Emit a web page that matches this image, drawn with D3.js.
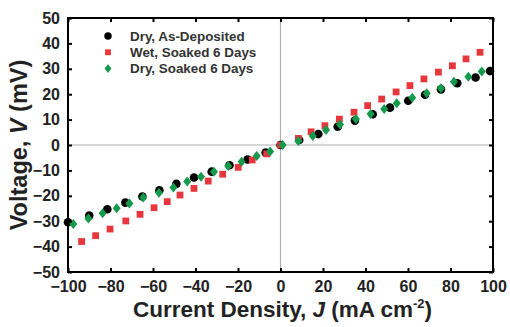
<!DOCTYPE html>
<meta charset="utf-8">
<script src="https://d3js.org/d3.v7.min.js"></script>
<style>
  body { margin: 0; background: #fff; }
  text { font-family: "Liberation Sans", Arial, sans-serif; font-weight: bold; }
</style>
<div id="chart"></div>
<script>
// data
const dryJ = [-100, -90, -81.5, -73, -65, -57, -49, -40.7, -32.4, -24, -15.5, -7, 0, 8.8, 17.8, 26.9, 35, 43.4, 51.5, 60.1, 68, 75.5, 83.2, 91.8, 98.6];
const dryV = [-30.4, -27.8, -25.3, -22.7, -20.3, -17.8, -15.3, -12.8, -10.5, -8, -5.7, -3, 0, 2, 4.3, 7.2, 9.6, 12.1, 14.7, 17.4, 19.8, 21.9, 24.3, 26.6, 29.1];

const wetJ = [-93.6, -87, -80.2, -72.8, -66.1, -59.5, -53.3, -47.3, -40.7, -34, -27.2, -19.9, -13.3, -6.5, 0, 8.4, 14.4, 20.9, 27.7, 34.6, 41, 47.6, 54.4, 60.9, 67.5, 74.3, 80.9, 87.3, 93.9];
const wetV = [-38, -35.7, -33.1, -29.9, -27.3, -24.7, -22.3, -19.7, -17.1, -14.2, -11.5, -8.8, -5.9, -3.5, 0, 2.6, 5.2, 7.6, 10.2, 12.9, 15.5, 18.1, 20.9, 23.4, 26, 28.7, 31.2, 33.9, 36.5];

const soakJ = [-97.5, -90.4, -83.7, -77.1, -71.1, -64.6, -57.2, -50.4, -43.9, -37.4, -31.3, -24.6, -18.3, -11.2, -4.9, 1, 8.4, 15.2, 21.4, 28, 35.5, 42.4, 48.8, 54.7, 62, 68.8, 75.5, 81.6, 88.4, 94.7];
const soakV = [-31.1, -28.9, -26.9, -24.9, -23, -20.7, -18.8, -16.7, -14.4, -12.5, -10.5, -8.3, -6.6, -4.3, -2.6, 0, 1.6, 3.5, 5.9, 8.1, 10.2, 12.2, 14.2, 16.4, 18.6, 20.4, 22.3, 24.9, 26.9, 28.9];

const seriesNames = ["Dry, As-Deposited", "Wet, Soaked 6 Days", "Dry, Soaked 6 Days"];
const xTicks = [-100, -80, -60, -40, -20, 0, 20, 40, 60, 80, 100];
const yTicks = [-50, -40, -30, -20, -10, 0, 10, 20, 30, 40, 50];

const W = 510, H = 327;
const margin = {top: 18, right: 17, bottom: 55, left: 68};
const width = W - margin.left - margin.right,
      height = H - margin.top - margin.bottom;

const svg = d3.select("#chart").append("svg")
    .attr("width", W).attr("height", H)
  .append("g")
    .attr("transform", `translate(${margin.left},${margin.top})`);

const x = d3.scaleLinear().domain([-100, 100]).range([0, width]);
const y = d3.scaleLinear().domain([-50, 50]).range([height, 0]);

// diamond, a bit wider than d3's own
const wideDiamond = {
  draw(ctx, size) {
    const h = Math.sqrt(size / 1.6);
    const w = h * 0.8;
    ctx.moveTo(0, -h); ctx.lineTo(w, 0); ctx.lineTo(0, h); ctx.lineTo(-w, 0); ctx.closePath();
  }
};

const series = [
  {name: seriesNames[0], J: dryJ, V: dryV, color: "#000000", type: d3.symbolCircle, size: 58},
  {name: seriesNames[1], J: wetJ, V: wetV, color: "#e8373c", type: d3.symbolSquare, size: 46},
  {name: seriesNames[2], J: soakJ, V: soakV, color: "#139a4b", type: wideDiamond, size: 40}
];

// zero lines
svg.append("line")
    .attr("x1", x(0)).attr("x2", x(0)).attr("y1", 0).attr("y2", height)
    .attr("stroke", "#b0b0b0").attr("stroke-width", 1.2);
svg.append("line")
    .attr("x1", 0).attr("x2", width).attr("y1", y(0)).attr("y2", y(0))
    .attr("stroke", "#b0b0b0").attr("stroke-width", 1.2);

// points
series.forEach(s => {
  svg.append("g").selectAll("path")
    .data(s.J.map((j, i) => ({J: j, V: s.V[i]})))
    .join("path")
      .attr("transform", d => `translate(${x(d.J)},${y(d.V)})`)
      .attr("d", d3.symbol().type(s.type).size(s.size))
      .attr("fill", s.color);
});

// axes, ticks pointing inward on all sides
const tickLen = 4;
const xb = svg.append("g").attr("transform", `translate(0,${height})`)
    .call(d3.axisBottom(x).tickValues(xTicks).tickSizeInner(-tickLen).tickSizeOuter(0).tickPadding(9));
const xt = svg.append("g")
    .call(d3.axisTop(x).tickValues(xTicks).tickSizeInner(-tickLen).tickSizeOuter(0).tickFormat(""));
const yl = svg.append("g")
    .call(d3.axisLeft(y).tickValues(yTicks).tickSizeInner(-tickLen).tickSizeOuter(0).tickPadding(8));
const yr = svg.append("g").attr("transform", `translate(${width},0)`)
    .call(d3.axisRight(y).tickValues(yTicks).tickSizeInner(-tickLen).tickSizeOuter(0).tickFormat(""));

[xb, xt, yl, yr].forEach(g => {
  g.select(".domain").remove();
  g.selectAll(".tick line").attr("stroke", "#000").attr("stroke-width", 2);
  g.selectAll(".tick text").attr("font-size", 16).attr("fill", "#222")
    .style("font-family", "'Liberation Sans', Arial, sans-serif").style("font-weight", "bold");
});

// frame
svg.append("rect")
    .attr("width", width).attr("height", height)
    .attr("fill", "none").attr("stroke", "#000").attr("stroke-width", 2);

// legend
const legend = svg.append("g").attr("transform", "translate(40,18)");
series.forEach((s, i) => {
  const row = legend.append("g").attr("transform", `translate(0,${i * 16.3})`);
  row.append("path")
      .attr("d", d3.symbol().type(s.type).size(s.size * 0.75))
      .attr("fill", s.color);
  row.append("text")
      .attr("x", 22).attr("dy", "0.35em")
      .attr("font-size", 13.4).attr("fill", "#333")
      .text(s.name);
});

// axis titles
const xTitle = svg.append("text")
    .attr("x", width / 2 + 2).attr("y", height + 45)
    .attr("text-anchor", "middle")
    .attr("font-size", 22.5).attr("fill", "#222");
xTitle.append("tspan").text("Current Density, ");
xTitle.append("tspan").attr("font-style", "italic").text("J");
xTitle.append("tspan").text(" (mA cm");
xTitle.append("tspan").attr("font-size", 13).attr("dy", -9).text("-2");
xTitle.append("tspan").attr("dy", 9).text(")");

const yTitle = svg.append("text")
    .attr("transform", `translate(${-41},${height / 2}) rotate(-90)`)
    .attr("text-anchor", "middle")
    .attr("font-size", 23.5).attr("fill", "#222");
yTitle.append("tspan").text("Voltage, ");
yTitle.append("tspan").attr("font-style", "italic").text("V");
yTitle.append("tspan").text(" (mV)");
</script>
